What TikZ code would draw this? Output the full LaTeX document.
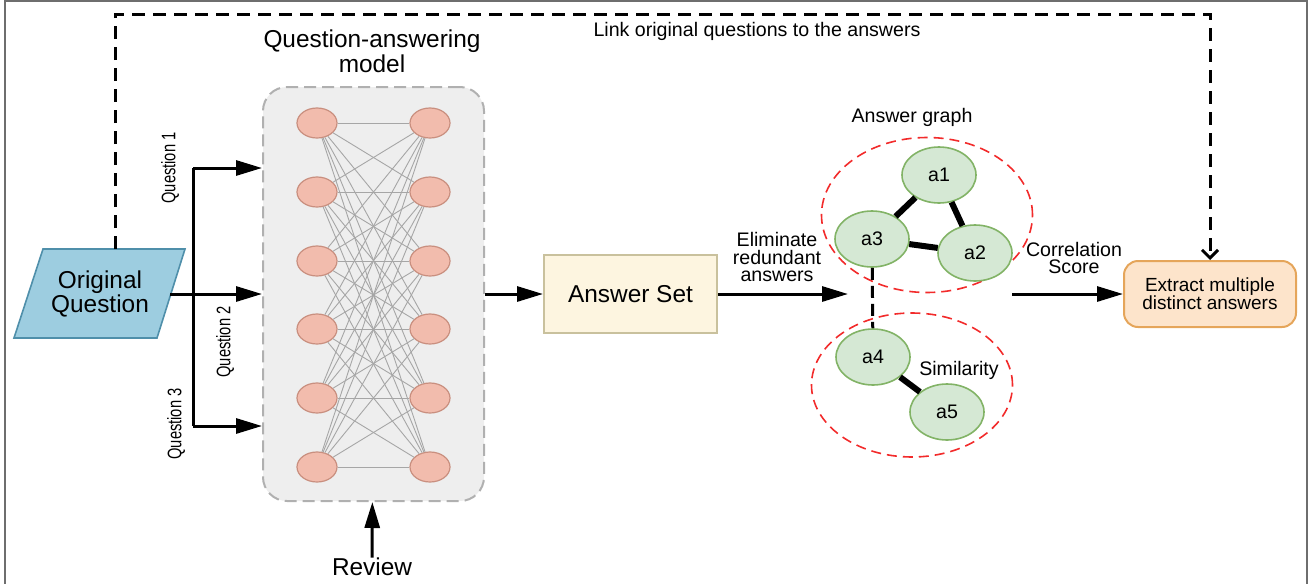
\documentclass[tikz,border=0pt]{standalone}
\usepackage{fontspec}
\setmainfont{Liberation Sans}
\usetikzlibrary{arrows.meta,shapes.geometric,positioning}
\definecolor{oqfill}{HTML}{9DCDE0}
\definecolor{oqdraw}{HTML}{4F8FAA}
\definecolor{nnfill}{HTML}{EEEEEE}
\definecolor{nndraw}{HTML}{B0B0B0}
\definecolor{neuronfill}{HTML}{F2BCAD}
\definecolor{neurondraw}{HTML}{C98F7F}
\definecolor{synapsegray}{HTML}{A6A6A6}
\definecolor{ansfill}{HTML}{FDF5E0}
\definecolor{ansdraw}{HTML}{C9C19D}
\definecolor{nodefill}{HTML}{D5E8D4}
\definecolor{nodedraw}{HTML}{82B366}
\definecolor{grpred}{HTML}{F22B2B}
\definecolor{exfill}{HTML}{FDE4CB}
\definecolor{exdraw}{HTML}{E5A55A}
\definecolor{framegray}{HTML}{6E6E6E}

\begin{document}
\begin{tikzpicture}[x=0.5pt,y=-0.5pt,
every node/.style={font=\fontsize{9.8}{8.6}\selectfont,align=center,inner sep=0pt},
big/.style={font=\fontsize{12.2}{11.2}\selectfont},
arr/.style={line width=1.5pt,-{Triangle[length=13pt,width=7.5pt]}},
link/.style={line width=1.5pt,dash pattern=on 6.5pt off 4pt,-{Straight Barb[length=4pt,width=8pt]}},
nnbox/.style={draw=nndraw,fill=nnfill,line width=1pt,dash pattern=on 6pt off 3pt,rounded corners=12pt,minimum width=110.5pt,minimum height=207pt},
neuron/.style={ellipse,draw=neurondraw,fill=neuronfill,line width=0.6pt,minimum width=20pt,minimum height=15pt},
synapse/.style={draw=synapsegray,line width=0.45pt},
ansbox/.style={draw=ansdraw,fill=ansfill,line width=1pt,minimum width=86.5pt,minimum height=39pt},
answer/.style={ellipse,draw=nodedraw,fill=nodefill,line width=0.8pt,minimum width=37pt,minimum height=28pt},
group/.style={ellipse,draw=grpred,line width=0.8pt,dash pattern=on 5pt off 3pt},
bond/.style={line width=3pt},
qlabel/.style={rotate=90}
]
\useasboundingbox (0,0) rectangle (1313,584);
\draw[framegray,line width=1pt] (5,584) -- (5,1) -- (1307,1) -- (1307,584);

\draw[draw=oqdraw,fill=oqfill,line width=0.8pt] (43,249) -- (185,249) -- (157,338) -- (14,338) -- cycle;
\node[big] (oq) at (100,294) {Original\\Question};

\node[nnbox] (nn) at (373.5,294) {};
\node[big] (qam) at (372,51) {Question-answering\\model};
\foreach \i/\y in {1/123,2/192,3/261,4/329,5/398,6/467}
{
\node[neuron] (l\i) at (317,\y) {};
\node[neuron] (r\i) at (430,\y) {};
}
\foreach \i in {1,...,6}
\foreach \j in {1,...,6}
\draw[synapse] (l\i) -- (r\j);

\node[ansbox,big] (as) at (630.5,294) {Answer Set};
\node[draw=exdraw,fill=exfill,line width=1pt,rounded corners=7pt,minimum width=86pt,minimum height=33pt,font=\fontsize{9.5}{9}\selectfont] (ex) at (1210,294) {Extract multiple\\distinct answers};

\node[group,minimum width=105.5pt,minimum height=77.5pt] (g1) at (927,215) {};
\node[group,minimum width=100.5pt,minimum height=72pt] (g2) at (912,385) {};
\node (agl) at (912,117) {Answer graph};
\node[answer] (a1) at (939,175) {a1};
\node[answer] (a2) at (975,253) {a2};
\node[answer] (a3) at (872,239) {a3};
\node[answer] (a4) at (873,357) {a4};
\node[answer] (a5) at (947,412) {a5};
\draw[bond] (a1) -- (a3);
\draw[bond] (a1) -- (a2);
\draw[bond] (a3) -- (a2);
\draw[bond] (a4) -- (a5);
\draw[line width=1.5pt,dash pattern=on 6pt off 3pt] (a3) -- (a4);
\node (sim) at (959,370) {Similarity};

\node (elim) at (777,257) {Eliminate\\redundant\\answers};
\node (corr) at (1074,258) {Correlation\\Score};
\node (lnk) at (757,31) {Link original questions to the answers};
\node[qlabel] (q1l) at (170,168) {\scalebox{0.75}[1]{Question 1}};
\node[qlabel] (q2l) at (225,342) {\scalebox{0.75}[1]{Question 2}};
\node[qlabel] (q3l) at (176,424) {\scalebox{0.75}[1]{Question 3}};
\node[big] (rev) at (372,567) {Review};

\coordinate (oqr) at (170,294);
\coordinate (b1) at (193,168);
\coordinate (b3) at (193,426);
\coordinate (oqt) at (115,249);
\coordinate (lk) at (115,14);
\coordinate (agin) at (848,294);
\coordinate (agout) at (1012,294);
\draw[line width=1.5pt] (b1) -- (b3);
\draw[arr] (oqr) -- (nn);
\draw[arr] (b1) -- (b1 -| nn.west);
\draw[arr] (b3) -- (b3 -| nn.west);
\draw[arr] (rev) -- (nn);
\draw[arr] (nn) -- (as);
\draw[arr] (as) -- (agin);
\draw[arr] (agout) -- (ex);
\draw[link] (oqt) -- (lk) -| (ex);
\end{tikzpicture}
\end{document}
